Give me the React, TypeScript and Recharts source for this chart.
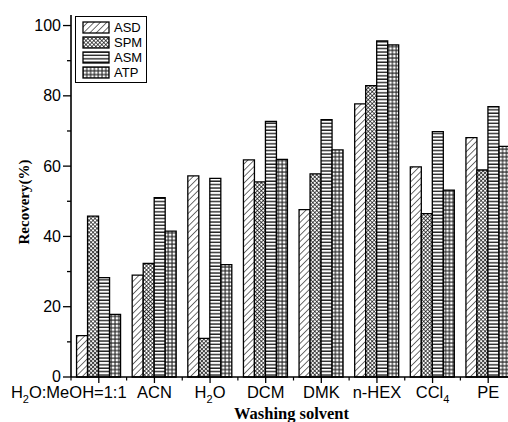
import React from "react";
import { BarChart, Bar, XAxis, YAxis, Legend } from "recharts";

const CATEGORIES = ["H2O:MeOH=1:1", "ACN", "H2O", "DCM", "DMK", "n-HEX", "CCl4", "PE"];
const ASD = [11.8, 29.0, 57.2, 61.8, 47.6, 77.7, 59.8, 68.1];
const SPM = [45.8, 32.3, 11.0, 55.5, 57.8, 82.9, 46.5, 58.9];
const ASM = [28.3, 51.0, 56.5, 72.7, 73.2, 95.6, 69.8, 76.9];
const ATP = [17.8, 41.5, 32.0, 61.9, 64.6, 94.5, 53.2, 65.6];
const Y_TICKS = [0, 10, 20, 30, 40, 50, 60, 70, 80, 90, 100];

const SERIES = [
  { key: "ASD", fill: "url(#pASD)" },
  { key: "SPM", fill: "url(#pSPM)" },
  { key: "ASM", fill: "url(#pASM)" },
  { key: "ATP", fill: "url(#pATP)" },
];

const data = CATEGORIES.map((name, i) => ({
  name,
  ASD: ASD[i],
  SPM: SPM[i],
  ASM: ASM[i],
  ATP: ATP[i],
}));

const PLOT_W = 445;
const BAND = PLOT_W / CATEGORIES.length;
const SANS = "'Liberation Sans', Arial, sans-serif";
const SERIF = "'Liberation Serif', 'Times New Roman', serif";

function Patterns() {
  return (
    <svg width={0} height={0} style={{ position: "absolute" }}>
      <defs>
        <pattern id="pASD" width="4.5" height="4.5" patternUnits="userSpaceOnUse" patternTransform="rotate(45)">
          <rect width="4.5" height="4.5" fill="#fff" />
          <line x1="0" y1="0" x2="0" y2="4.5" stroke="#111" strokeWidth="1.2" />
        </pattern>
        <pattern id="pSPM" width="2.8" height="2.8" patternUnits="userSpaceOnUse" patternTransform="rotate(45)">
          <rect width="2.8" height="2.8" fill="#fff" />
          <line x1="0" y1="0" x2="0" y2="2.8" stroke="#000" strokeWidth="1.3" />
          <line x1="0" y1="0" x2="2.8" y2="0" stroke="#000" strokeWidth="1.3" />
        </pattern>
        <pattern id="pASM" width="4" height="3.4" patternUnits="userSpaceOnUse">
          <rect width="4" height="3.4" fill="#fff" />
          <line x1="0" y1="1" x2="4" y2="1" stroke="#111" strokeWidth="1.3" />
        </pattern>
        <pattern id="pATP" width="3.8" height="3.8" patternUnits="userSpaceOnUse">
          <rect width="3.8" height="3.8" fill="#fff" />
          <line x1="0" y1="1" x2="3.8" y2="1" stroke="#111" strokeWidth="1.1" />
          <line x1="1" y1="0" x2="1" y2="3.8" stroke="#222" strokeWidth="1.1" />
        </pattern>
      </defs>
    </svg>
  );
}

// subscript the 2 in H2O and the 4 in CCl4
function renderLabel(name: string) {
  const parts = name.split(/(?<=H)(2)|(?<=Cl)(4)/).filter((p) => p !== undefined && p !== "");
  let sub = false;
  return parts.map((p, i) => {
    const isSub = (p === "2" && parts[i - 1]?.endsWith("H")) || (p === "4" && parts[i - 1]?.endsWith("Cl"));
    const el = isSub ? (
      <tspan key={i} dy={5} fontSize={11}>{p}</tspan>
    ) : (
      <tspan key={i} dy={sub ? -5 : 0}>{p}</tspan>
    );
    sub = isSub;
    return el;
  });
}

function XTick(props: any) {
  const { x, y, payload, index } = props;
  const first = index === 0;
  return (
    <g>
      <line x1={x} y1={y} x2={x} y2={y + 6} stroke="#000" strokeWidth={1.3} />
      <line x1={x + BAND / 2} y1={y} x2={x + BAND / 2} y2={y + 3.5} stroke="#000" strokeWidth={1.2} />
      {first && <line x1={x - BAND / 2} y1={y} x2={x - BAND / 2} y2={y + 3.5} stroke="#000" strokeWidth={1.2} />}
      <text
        x={first ? x + BAND / 2 : x}
        y={y + 21}
        textAnchor={first ? "end" : "middle"}
        fontSize={16.5}
        fontFamily={SANS}
        fill="#000"
      >
        {renderLabel(payload.value)}
      </text>
    </g>
  );
}

function YTick(props: any) {
  const { x, y, payload } = props;
  const major = payload.value % 20 === 0;
  return (
    <g>
      <line x1={x - (major ? 8 : 4)} y1={y} x2={x} y2={y} stroke="#000" strokeWidth={1.3} />
      {major && (
        <text x={x - 10} y={y} dy={payload.value === 0 ? 4.5 : 5.5} textAnchor="end" fontSize={16} fontFamily={SANS} fill="#000">
          {payload.value}
        </text>
      )}
    </g>
  );
}

function LegendBox() {
  return (
    <div
      style={{
        border: "1px solid #000",
        background: "#fff",
        padding: "3px 4px 2px 6px",
        fontFamily: SANS,
        fontSize: 13,
        lineHeight: "15px",
      }}
    >
      {SERIES.map((s) => (
        <div key={s.key} style={{ display: "flex", alignItems: "center", height: 15 }}>
          <svg width={28} height={13} style={{ marginRight: 4 }}>
            <rect x={1} y={1} width={26} height={11} fill={s.fill} stroke="#000" strokeWidth={1.3} />
          </svg>
          <span>{s.key}</span>
        </div>
      ))}
    </div>
  );
}

export default function App() {
  return (
    <div style={{ position: "fixed", left: 0, top: 0, width: 508, height: 422, overflow: "hidden", background: "#fff" }}>
      <Patterns />
      <BarChart
        width={530}
        height={422}
        data={data}
        margin={{ top: 15, right: 14, bottom: 15, left: 21 }}
        barCategoryGap="10%"
        barGap={0}
      >
        <XAxis
          dataKey="name"
          height={30}
          interval={0}
          tickSize={0}
          tickMargin={0}
          tick={<XTick />}
          axisLine={{ stroke: "#000", strokeWidth: 1.6 }}
          label={(p: any) => {
            const vb = p.viewBox || { x: 71, width: PLOT_W };
            return (
              <text x={vb.x + vb.width / 2 - 2} y={419} textAnchor="middle" fontFamily={SERIF} fontWeight="bold" fontSize={16.5} fill="#000">
                Washing solvent
              </text>
            );
          }}
        />
        <YAxis
          width={50}
          domain={[0, 103]}
          ticks={Y_TICKS}
          interval={0}
          tickSize={0}
          tickMargin={0}
          tick={<YTick />}
          axisLine={{ stroke: "#000", strokeWidth: 1.6 }}
          label={(p: any) => {
            const vb = p.viewBox || { y: 15, height: 362 };
            const cy = vb.y + vb.height / 2 + 6;
            return (
              <text
                x={24}
                y={cy}
                transform={`rotate(-90, 24, ${cy})`}
                textAnchor="middle"
                dominantBaseline="central"
                fontFamily={SERIF}
                fontWeight="bold"
                fontSize={15}
                fill="#000"
              >
                Recovery(%)
              </text>
            );
          }}
        />
        <Legend
          layout="vertical"
          align="center"
          verticalAlign="middle"
          content={() => <LegendBox />}
          wrapperStyle={{ top: 16, left: 75, width: "auto" }}
        />
        {SERIES.map((s) => (
          <Bar key={s.key} dataKey={s.key} fill={s.fill} stroke="#000" strokeWidth={1.3} isAnimationActive={false} />
        ))}
      </BarChart>
    </div>
  );
}
